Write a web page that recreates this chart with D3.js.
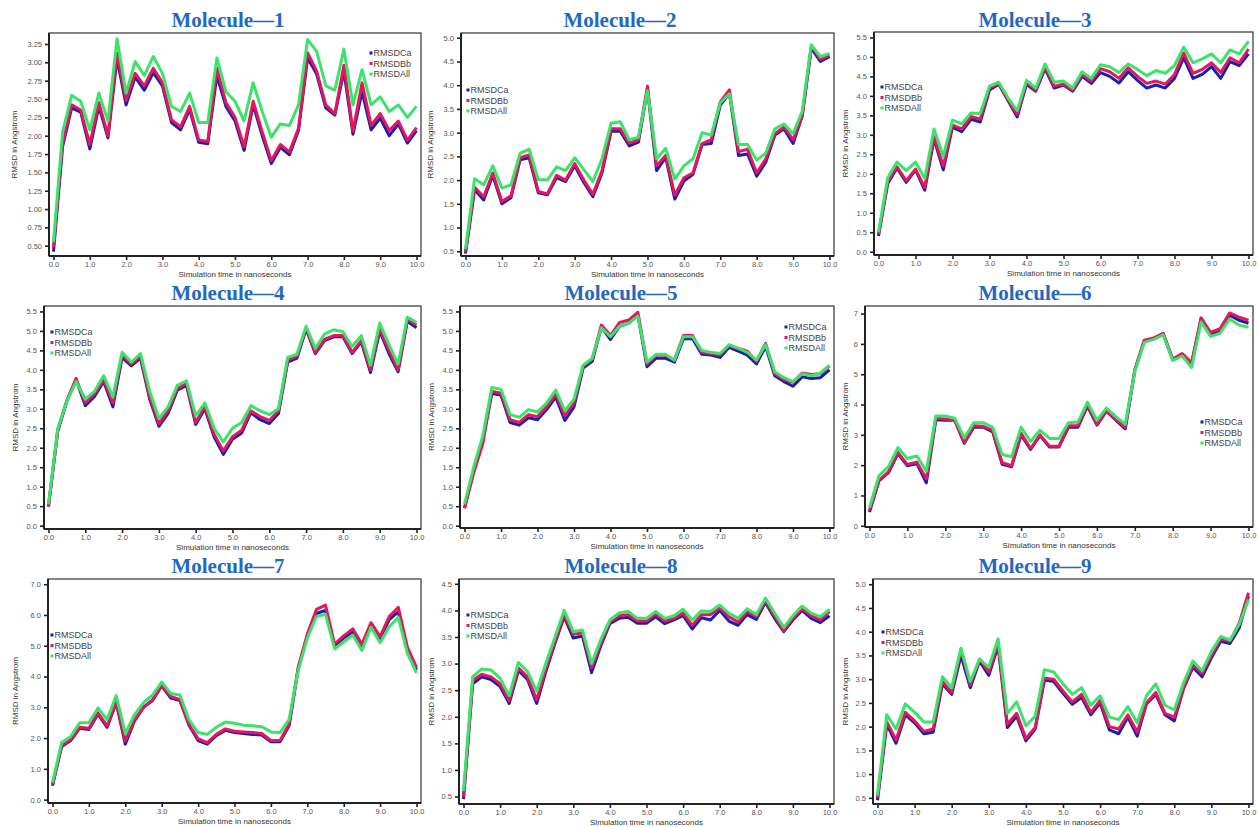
<!DOCTYPE html>
<html>
<head>
<meta charset="utf-8">
<script src="https://cdn.jsdelivr.net/npm/d3@7"></script>
<style>
  html, body { margin: 0; padding: 0; background: #fff; }
  svg { display: block; }
  .tick-label { font-family: "Liberation Sans", Arial, sans-serif; font-size: 7.5px; fill: #555; }
  .axis-title { font-family: "Liberation Sans", Arial, sans-serif; font-size: 8px; fill: #333; }
  .legend-text { font-family: "Liberation Sans", Arial, sans-serif; font-size: 9px; fill: #444; }
  .panel-title { font-family: "Liberation Serif", "Times New Roman", serif; font-size: 21px; font-weight: bold; fill: #2268c2; }
</style>
</head>
<body>
<svg id="chart" width="1258" height="827"></svg>
<script>
// Simulation time (ns), sampled every 0.25 ns
const time = [0,0.25,0.5,0.75,1,1.25,1.5,1.75,2,2.25,2.5,2.75,3,3.25,3.5,3.75,4,4.25,4.5,4.75,5,5.25,5.5,5.75,6,6.25,6.5,6.75,7,7.25,7.5,7.75,8,8.25,8.5,8.75,9,9.25,9.5,9.75,10];
const seriesNames = ["RMSDCa", "RMSDBb", "RMSDAll"];
const xTickLabels = [0,1,2,3,4,5,6,7,8,9,10];

// Molecule 1
const mol1Ca  = [0.42,1.85,2.38,2.32,1.82,2.40,1.97,3.05,2.42,2.80,2.62,2.86,2.68,2.18,2.08,2.36,1.91,1.89,2.82,2.40,2.20,1.80,2.42,2.00,1.62,1.84,1.74,2.07,3.06,2.84,2.38,2.28,2.88,2.02,2.60,2.08,2.24,2.00,2.16,1.90,2.07];
const mol1Bb  = [0.48,1.90,2.42,2.35,1.88,2.45,2.00,3.12,2.48,2.85,2.68,2.92,2.72,2.22,2.12,2.40,1.94,1.92,2.92,2.45,2.25,1.85,2.47,2.05,1.66,1.88,1.78,2.10,3.13,2.88,2.42,2.30,2.96,2.06,2.72,2.14,2.30,2.07,2.20,1.94,2.11];
const mol1All = [0.55,2.05,2.55,2.47,2.08,2.58,2.20,3.32,2.58,3.01,2.82,3.08,2.85,2.40,2.33,2.58,2.18,2.18,3.06,2.60,2.47,2.20,2.72,2.33,1.98,2.16,2.14,2.42,3.31,3.15,2.68,2.62,3.18,2.42,2.90,2.42,2.53,2.33,2.42,2.25,2.40];

// Molecule 2
const mol2Ca  = [0.45,1.80,1.58,2.10,1.50,1.63,2.43,2.47,1.73,1.69,2.05,1.97,2.30,1.95,1.65,2.15,3.03,3.03,2.72,2.80,3.92,2.20,2.48,1.60,1.98,2.12,2.75,2.77,3.58,3.83,2.52,2.55,2.08,2.38,2.95,3.08,2.77,3.35,4.78,4.50,4.60];
const mol2Bb  = [0.48,1.85,1.65,2.15,1.55,1.67,2.47,2.53,1.76,1.71,2.10,2.00,2.35,2.00,1.70,2.20,3.08,3.08,2.78,2.85,3.98,2.30,2.52,1.68,2.05,2.15,2.77,2.85,3.65,3.90,2.60,2.65,2.15,2.45,2.98,3.12,2.85,3.35,4.83,4.55,4.63];
const mol2All = [0.55,2.03,1.90,2.30,1.83,1.90,2.57,2.65,2.01,2.00,2.28,2.20,2.47,2.22,1.97,2.45,3.20,3.23,2.85,2.90,3.88,2.45,2.67,2.02,2.30,2.45,3.00,2.95,3.63,3.82,2.75,2.75,2.42,2.57,3.08,3.18,2.98,3.45,4.85,4.60,4.67];

// Molecule 3
const mol3Ca  = [0.40,1.75,2.15,1.78,2.10,1.58,2.90,2.10,3.20,3.08,3.40,3.33,4.15,4.30,3.88,3.46,4.30,4.12,4.70,4.20,4.28,4.12,4.50,4.32,4.60,4.50,4.33,4.62,4.40,4.20,4.28,4.20,4.45,4.98,4.45,4.55,4.75,4.45,4.88,4.78,5.08];
const mol3Bb  = [0.45,1.80,2.18,1.82,2.12,1.65,2.95,2.20,3.25,3.15,3.47,3.40,4.20,4.32,3.90,3.52,4.35,4.15,4.75,4.25,4.30,4.15,4.55,4.38,4.70,4.62,4.45,4.72,4.50,4.32,4.38,4.30,4.55,5.10,4.58,4.68,4.85,4.60,4.98,4.85,5.20];
const mol3All = [0.50,1.90,2.30,2.08,2.30,1.88,3.15,2.45,3.38,3.28,3.56,3.55,4.25,4.35,3.95,3.62,4.40,4.20,4.82,4.35,4.38,4.20,4.62,4.45,4.80,4.75,4.60,4.82,4.68,4.52,4.65,4.58,4.78,5.25,4.85,4.95,5.08,4.85,5.18,5.08,5.40];

// Molecule 4
const mol4Ca  = [0.50,2.42,3.20,3.75,3.08,3.32,3.70,3.05,4.32,4.10,4.30,3.25,2.55,2.88,3.48,3.60,2.60,3.00,2.28,1.83,2.22,2.38,2.90,2.72,2.62,2.88,4.20,4.30,5.05,4.42,4.75,4.85,4.85,4.42,4.72,3.93,5.00,4.42,3.95,5.25,5.08];
const mol4Bb  = [0.48,2.45,3.22,3.78,3.15,3.38,3.75,3.15,4.38,4.15,4.35,3.30,2.62,2.95,3.52,3.65,2.65,3.05,2.35,1.92,2.28,2.45,2.95,2.80,2.70,2.95,4.25,4.35,5.08,4.45,4.78,4.88,4.88,4.45,4.75,4.00,5.05,4.50,4.00,5.30,5.15];
const mol4All = [0.55,2.48,3.20,3.70,3.25,3.45,3.85,3.30,4.45,4.20,4.42,3.45,2.75,3.05,3.60,3.72,2.82,3.15,2.50,2.15,2.50,2.65,3.08,2.95,2.85,3.00,4.32,4.40,5.12,4.55,4.92,5.03,4.98,4.60,4.88,4.12,5.20,4.65,4.15,5.35,5.22];

// Molecule 5
const mol5Ca  = [0.45,1.40,2.20,3.40,3.35,2.65,2.58,2.77,2.72,2.98,3.30,2.70,3.05,4.05,4.22,5.10,4.78,5.12,5.20,5.40,4.08,4.30,4.30,4.20,4.80,4.80,4.40,4.38,4.32,4.58,4.48,4.38,4.15,4.60,3.85,3.70,3.58,3.82,3.78,3.80,4.00];
const mol5Bb  = [0.45,1.35,2.10,3.45,3.40,2.72,2.65,2.85,2.80,3.05,3.38,2.82,3.15,4.10,4.28,5.15,4.88,5.22,5.28,5.48,4.15,4.38,4.38,4.25,4.88,4.88,4.45,4.42,4.38,4.62,4.55,4.48,4.22,4.68,3.90,3.75,3.68,3.92,3.88,3.90,4.10];
const mol5All = [0.55,1.50,2.30,3.55,3.50,2.85,2.78,2.98,2.92,3.15,3.48,2.95,3.25,4.12,4.30,5.08,4.85,5.12,5.20,5.38,4.20,4.40,4.40,4.25,4.85,4.85,4.50,4.45,4.42,4.65,4.55,4.45,4.25,4.65,3.95,3.80,3.70,3.90,3.85,3.92,4.12];

// Molecule 6
const mol6Ca  = [0.45,1.48,1.75,2.38,1.98,2.05,1.42,3.50,3.48,3.48,2.72,3.25,3.25,3.10,2.03,1.95,3.00,2.52,2.98,2.60,2.60,3.25,3.25,3.95,3.32,3.78,3.48,3.20,5.12,6.10,6.18,6.33,5.48,5.65,5.35,6.85,6.32,6.45,6.95,6.78,6.68];
const mol6Bb  = [0.50,1.50,1.78,2.42,2.02,2.10,1.55,3.55,3.52,3.50,2.75,3.30,3.28,3.15,2.08,1.98,3.05,2.55,3.00,2.62,2.62,3.30,3.30,4.00,3.35,3.80,3.50,3.25,5.15,6.12,6.20,6.35,5.50,5.68,5.38,6.85,6.38,6.50,7.02,6.88,6.78];
const mol6All = [0.60,1.65,1.95,2.58,2.22,2.30,1.80,3.62,3.62,3.55,2.90,3.40,3.40,3.25,2.35,2.28,3.25,2.78,3.15,2.88,2.88,3.40,3.42,4.08,3.48,3.88,3.60,3.35,5.10,6.05,6.15,6.30,5.45,5.60,5.22,6.72,6.25,6.35,6.82,6.62,6.55];

// Molecule 7
const mol7Ca  = [0.45,1.72,1.92,2.32,2.28,2.78,2.35,3.15,1.80,2.55,3.00,3.22,3.70,3.30,3.22,2.42,1.92,1.80,2.08,2.25,2.18,2.15,2.12,2.10,1.88,1.88,2.40,4.25,5.32,6.05,6.15,5.00,5.25,5.45,5.00,5.70,5.22,5.85,6.10,4.88,4.22];
const mol7Bb  = [0.50,1.75,1.95,2.35,2.32,2.82,2.40,3.18,1.90,2.60,3.00,3.25,3.72,3.35,3.25,2.45,1.98,1.85,2.12,2.30,2.22,2.20,2.18,2.15,1.92,1.92,2.45,4.30,5.38,6.18,6.32,5.05,5.32,5.55,5.05,5.75,5.30,5.95,6.25,4.95,4.30];
const mol7All = [0.55,1.85,2.05,2.50,2.50,2.98,2.60,3.38,2.15,2.75,3.15,3.40,3.82,3.45,3.40,2.60,2.18,2.12,2.35,2.52,2.48,2.42,2.40,2.37,2.20,2.18,2.60,4.20,5.25,5.95,6.02,4.90,5.12,5.35,4.85,5.60,5.10,5.62,5.92,4.75,4.12];

// Molecule 8
const mol8Ca  = [0.45,2.62,2.75,2.70,2.57,2.25,2.87,2.70,2.25,2.85,3.38,3.88,3.48,3.52,2.83,3.33,3.75,3.85,3.87,3.76,3.76,3.88,3.75,3.82,3.90,3.65,3.86,3.82,4.00,3.80,3.72,3.92,3.83,4.15,3.85,3.60,3.82,4.00,3.85,3.77,3.90];
const mol8Bb  = [0.50,2.68,2.80,2.75,2.62,2.30,2.92,2.75,2.32,2.90,3.42,3.92,3.55,3.58,2.92,3.38,3.78,3.90,3.92,3.80,3.80,3.93,3.80,3.85,3.95,3.72,3.92,3.92,4.05,3.88,3.78,3.98,3.88,4.18,3.90,3.62,3.85,4.03,3.90,3.82,3.98];
const mol8All = [0.60,2.75,2.90,2.88,2.72,2.40,3.02,2.85,2.48,3.00,3.50,4.00,3.60,3.63,3.00,3.45,3.82,3.95,3.98,3.85,3.85,3.98,3.85,3.90,4.02,3.82,3.99,3.98,4.10,3.95,3.85,4.03,3.92,4.23,3.95,3.68,3.90,4.08,3.95,3.88,4.02];

// Molecule 9
const mol9Ca  = [0.45,2.05,1.65,2.25,2.08,1.85,1.88,2.90,2.68,3.50,2.82,3.38,3.08,3.70,1.98,2.22,1.70,1.95,2.98,2.95,2.70,2.47,2.62,2.25,2.50,1.93,1.85,2.20,1.80,2.48,2.68,2.25,2.12,2.80,3.25,3.05,3.45,3.80,3.75,4.08,4.75];
const mol9Bb  = [0.50,2.10,1.72,2.30,2.12,1.90,1.95,2.95,2.72,3.62,2.88,3.42,3.15,3.75,2.05,2.28,1.75,1.98,3.02,3.00,2.75,2.52,2.68,2.30,2.55,2.00,1.95,2.25,1.88,2.50,2.72,2.28,2.20,2.82,3.30,3.12,3.50,3.85,3.80,4.18,4.82];
const mol9All = [0.55,2.25,1.95,2.48,2.30,2.10,2.10,3.05,2.82,3.65,2.95,3.42,3.25,3.85,2.28,2.52,2.02,2.22,3.20,3.15,2.90,2.68,2.82,2.45,2.65,2.20,2.15,2.42,2.08,2.65,2.90,2.45,2.35,2.92,3.38,3.18,3.58,3.90,3.82,4.15,4.68];

// Y tick labels per molecule
const yTicks1 = [0.5,0.75,1.0,1.25,1.5,1.75,2.0,2.25,2.5,2.75,3.0,3.25];
const yTicks2 = [0.5,1.0,1.5,2.0,2.5,3.0,3.5,4.0,4.5,5.0];
const yTicks3 = [0,0.5,1.0,1.5,2.0,2.5,3.0,3.5,4.0,4.5,5.0,5.5];
const yTicks6 = [0,1,2,3,4,5,6,7];
const yTicks7 = [0,1,2,3,4,5,6,7];
const yTicks8 = [0.5,1.0,1.5,2.0,2.5,3.0,3.5,4.0,4.5];

const colors = ["#1c1cb0", "#e4175c", "#3be36b"];

// Panel layout: box = [left, top, right, bottom]
const panels = [
  { title: "Molecule\u20141", box: [49, 33, 421, 256], tx: 228, ty: 27, yDom: [0.36, 3.40], ticks: yTicks1, fmt: ".2f", ylx: 17, leg: [371, 53], data: [mol1Ca, mol1Bb, mol1All] },
  { title: "Molecule\u20142", box: [461, 33, 834, 256], tx: 620, ty: 27, yDom: [0.40, 5.10], ticks: yTicks2, fmt: ".1f", ylx: 433, leg: [468, 90], data: [mol2Ca, mol2Bb, mol2All] },
  { title: "Molecule\u20143", box: [874, 32, 1253, 255], tx: 1035, ty: 27, yDom: [-0.085, 5.64], ticks: yTicks3, fmt: ".1f", ylx: 848, leg: [882, 87], data: [mol3Ca, mol3Bb, mol3All] },
  { title: "Molecule\u20144", box: [44, 306, 421, 529], tx: 228, ty: 300, yDom: [-0.087, 5.64], ticks: yTicks3, fmt: ".1f", ylx: 18, leg: [52, 332], data: [mol4Ca, mol4Bb, mol4All] },
  { title: "Molecule\u20145", box: [460, 306, 834, 528], tx: 621, ty: 300, yDom: [-0.06, 5.64], ticks: yTicks3, fmt: ".1f", ylx: 434, leg: [786, 327], data: [mol5Ca, mol5Bb, mol5All] },
  { title: "Molecule\u20146", box: [865, 306, 1253, 527], tx: 1035, ty: 300, yDom: [-0.04, 7.25], ticks: yTicks6, fmt: "d", ylx: 848, leg: [1202, 422], data: [mol6Ca, mol6Bb, mol6All] },
  { title: "Molecule\u20147", box: [48, 579, 421, 803], tx: 228, ty: 573, yDom: [-0.11, 7.17], ticks: yTicks7, fmt: ".1f", ylx: 18, leg: [52, 635], data: [mol7Ca, mol7Bb, mol7All] },
  { title: "Molecule\u20148", box: [459, 579, 834, 804], tx: 621, ty: 573, yDom: [0.36, 4.59], ticks: yTicks8, fmt: ".1f", ylx: 434, leg: [468, 615], data: [mol8Ca, mol8Bb, mol8All] },
  { title: "Molecule\u20149", box: [873, 579, 1253, 804], tx: 1035, ty: 573, yDom: [0.37, 5.11], ticks: yTicks2, fmt: ".1f", ylx: 848, leg: [883, 632], data: [mol9Ca, mol9Bb, mol9All] }
];

const svg = d3.select("#chart");

panels.forEach(p => {
  const [l, t, r, b] = p.box;
  const g = svg.append("g");

  const x = d3.scaleLinear().domain([0, 10]).range([l + 4.5, r - 4.5]);
  const y = d3.scaleLinear().domain(p.yDom).range([b, t]);

  // Title
  g.append("text").attr("class", "panel-title")
    .attr("x", p.tx).attr("y", p.ty).attr("text-anchor", "middle").text(p.title);

  // Series lines
  const line = d3.line().x((d, i) => x(time[i])).y(d => y(d));
  p.data.forEach((vals, k) => {
    g.append("path").datum(vals)
      .attr("fill", "none")
      .attr("stroke", colors[k])
      .attr("stroke-width", 3)
      .attr("stroke-linejoin", "round")
      .attr("d", line);
  });

  // Frame
  g.append("rect").attr("x", l).attr("y", t).attr("width", r - l).attr("height", b - t)
    .attr("fill", "none").attr("stroke", "#333").attr("stroke-width", 1.2);

  // Axes
  const xAxis = d3.axisBottom(x).tickValues(xTickLabels).tickFormat(d3.format(".1f"))
    .tickSize(4).tickSizeOuter(0).tickPadding(2);
  const gx = g.append("g").attr("transform", `translate(0,${b})`).call(xAxis);
  const yAxis = d3.axisLeft(y).tickValues(p.ticks).tickFormat(d3.format(p.fmt))
    .tickSize(4).tickSizeOuter(0).tickPadding(3);
  const gy = g.append("g").attr("transform", `translate(${l},0)`).call(yAxis);

  [gx, gy].forEach(ax => {
    ax.select(".domain").attr("stroke", "#222").attr("stroke-width", 2);
    ax.selectAll(".tick line").attr("stroke", "#222").attr("stroke-width", 1.6);
    ax.selectAll(".tick text").attr("class", "tick-label").attr("fill", null);
  });
  gy.select(".domain").attr("d", `M0,${t}V${b}`);
  gx.select(".domain").attr("d", `M${l},0H${r}`);

  // Axis titles
  g.append("text").attr("class", "axis-title")
    .attr("x", (l + r) / 2).attr("y", b + 21).attr("text-anchor", "middle")
    .text("Simulation time in nanoseconds");
  g.append("text").attr("class", "axis-title")
    .attr("transform", `translate(${p.ylx},${(t + b) / 2}) rotate(-90)`)
    .attr("text-anchor", "middle").text("RMSD in Angstrom");

  // Legend
  const lg = g.append("g").attr("transform", `translate(${p.leg[0]},${p.leg[1]})`);
  seriesNames.forEach((name, k) => {
    const row = lg.append("g").attr("transform", `translate(0,${k * 10.5})`);
    row.append("rect").attr("x", -1.5).attr("y", -1.5).attr("width", 3).attr("height", 3).attr("fill", colors[k]);
    row.append("text").attr("class", "legend-text").attr("x", 2.5).attr("y", 3.2).text(name);
  });
});
</script>
</body>
</html>
